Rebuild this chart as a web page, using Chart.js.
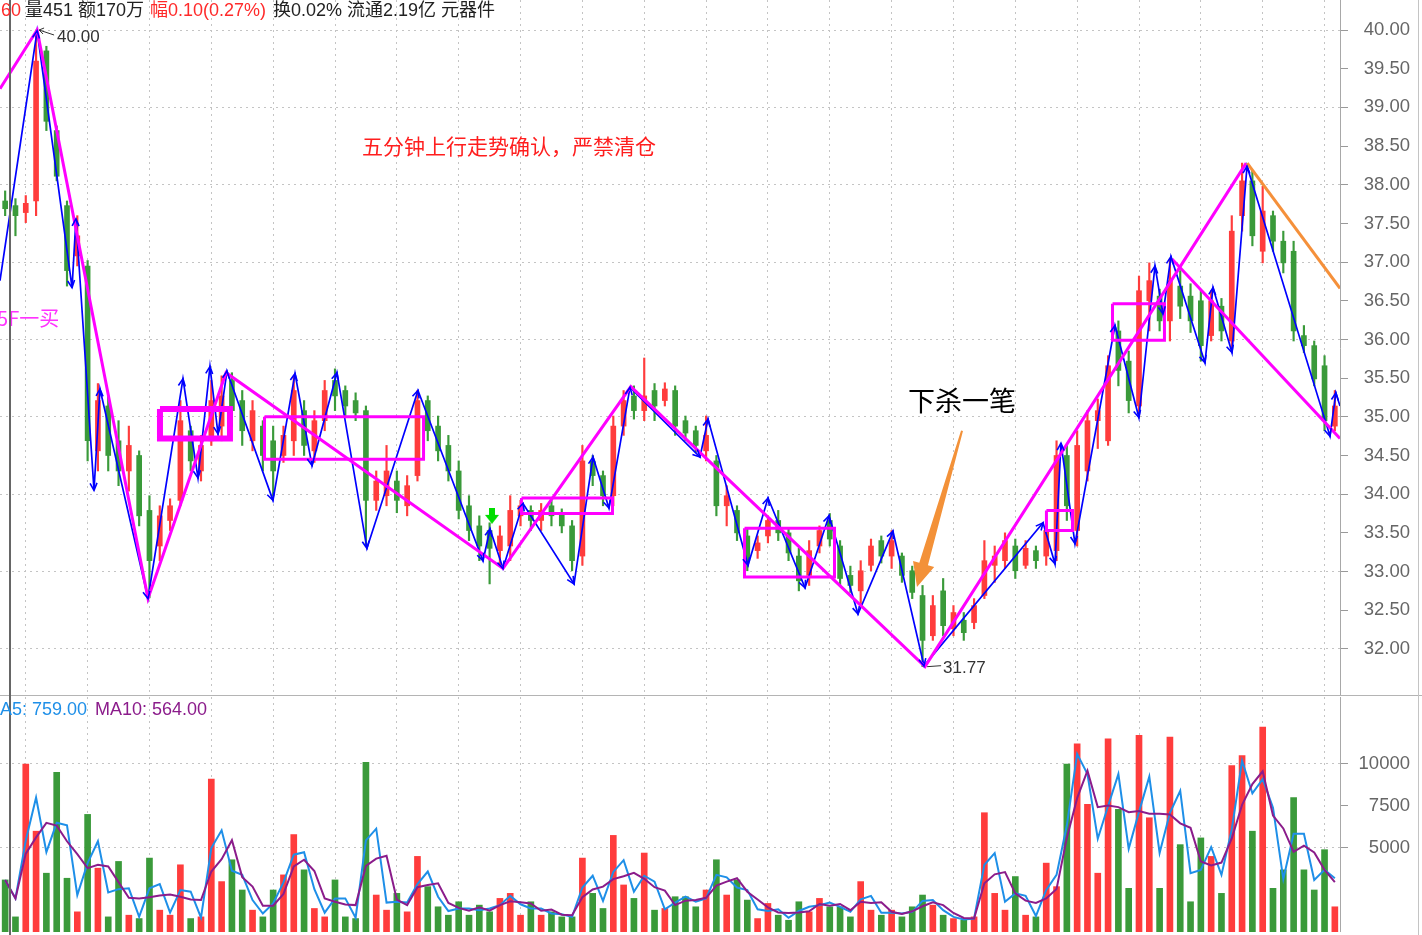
<!DOCTYPE html>
<html>
<head>
<meta charset="utf-8">
<script src="https://cdn.jsdelivr.net/npm/chart.js@4.4.1/dist/chart.umd.min.js"></script>
<style>
html,body{margin:0;padding:0;background:#fff;width:1422px;height:935px;overflow:hidden;}
#wrap{position:relative;width:1422px;height:935px;background:#fff;}
canvas{position:absolute;left:0;}
#cPrice{top:0;}
#cVol{top:697px;}
.t{position:absolute;white-space:nowrap;font-family:"Liberation Sans","Noto Sans CJK SC",sans-serif;font-size:18px;line-height:20px;}
.line{position:absolute;}
</style>
</head>
<body>
<div id="wrap">
<canvas id="cPrice" width="1410" height="696"></canvas>
<canvas id="cVol" width="1410" height="235"></canvas>
<div class="line" style="left:0;top:695px;width:1422px;height:1px;background:#b4b4b4"></div>
<div class="line" style="left:1418px;top:0;width:1px;height:935px;background:#c4c4c4"></div>
<div class="line" style="left:9px;top:0;width:2px;height:935px;background:#666"></div>
<div class="t" style="left:1px;top:0;color:#ff2a2a">60</div>
<div class="t" style="left:25px;top:0;color:#222">量451 额170万</div>
<div class="t" style="left:150px;top:0;color:#ff2a2a">幅0.10(0.27%)</div>
<div class="t" style="left:273px;top:0;color:#222">换0.02% 流通2.19亿 元器件</div>
<div class="t" style="left:-15px;top:699px;color:#1e8fe8">MA5: 759.00</div>
<div class="t" style="left:95px;top:699px;color:#8b1c8b">MA10: 564.00</div>
</div>
<script>
// ---------------- data ----------------
const priceTicks = [32, 32.5, 33, 33.5, 34, 34.5, 35, 35.5, 36, 36.5, 37, 37.5, 38, 38.5, 39, 39.5, 40];
const volumeTicks = [5000, 7500, 10000];
const gridSlots = [2, 8, 14, 20, 26, 32, 38, 44, 50, 56, 62, 68, 74, 80, 86, 92, 98, 104, 110, 116, 122, 128];

const openP = [37.79,37.73,37.64,37.79,39.73,38.70,37.73,37.08,36.95,34.56,
35.14,34.69,34.30,34.50,33.79,33.33,33.66,33.92,34.82,34.30,
34.69,34.88,35.47,35.21,34.69,34.88,34.69,34.50,34.69,35.08,
34.56,34.95,35.47,35.34,35.21,35.08,33.92,33.98,34.17,33.85,
34.24,35.21,34.88,34.63,34.30,33.85,33.59,33.53,33.27,33.33,
33.72,33.79,33.66,33.85,33.76,33.59,33.20,34.43,34.24,33.98,
34.88,35.27,35.08,35.34,35.21,35.34,34.95,34.82,34.56,34.43,
33.85,33.79,33.46,33.27,33.46,33.66,33.50,33.20,32.95,33.33,
33.66,33.33,32.95,32.75,33.08,33.40,33.20,33.20,33.01,32.69,
32.17,32.75,32.26,32.37,32.34,32.69,33.08,33.14,33.33,33.08,
33.27,33.20,33.27,34.50,33.53,34.30,34.95,34.69,36.11,35.72,
35.14,36.50,36.56,36.24,36.69,36.56,36.50,36.05,36.43,35.98,
37.60,38.05,37.14,37.60,37.27,37.14,36.05,35.92,35.66,34.88];

const closeP = [37.69,37.60,37.76,39.60,38.82,38.11,36.89,37.34,34.69,35.21,
34.50,34.30,34.63,33.72,33.14,33.72,33.85,34.95,34.43,34.63,
35.21,35.27,35.08,34.82,35.08,34.50,34.30,34.76,35.34,34.63,
34.95,35.34,35.27,35.14,35.05,33.92,34.17,34.30,33.92,34.11,
35.21,34.82,34.56,34.30,33.79,33.53,33.33,33.30,33.46,33.79,
33.85,33.66,33.79,33.72,33.59,33.14,34.43,34.24,33.98,34.88,
35.21,35.08,35.27,35.14,35.36,34.88,34.79,34.63,34.76,33.85,
33.98,33.50,33.14,33.37,33.66,33.50,33.24,32.88,33.27,33.53,
33.42,32.91,32.82,33.01,33.33,33.20,33.40,32.95,32.73,32.11,
32.56,32.30,32.47,32.21,32.56,33.14,33.20,33.40,33.01,33.30,
33.14,33.53,34.50,33.85,34.63,34.95,35.08,35.66,35.60,35.21,
36.63,36.76,36.24,36.76,36.43,36.24,35.92,36.50,36.11,37.40,
38.05,37.34,37.66,37.27,36.99,36.11,35.92,35.49,34.95,35.14];

const highP = [37.92,37.82,37.86,40.00,39.79,38.76,37.79,37.60,37.02,35.43,
35.27,34.95,34.88,34.56,33.98,33.85,33.94,35.21,34.88,34.76,
35.47,35.53,35.57,35.34,35.21,34.95,34.88,34.88,35.53,35.21,
35.08,35.47,35.62,35.40,35.31,35.14,34.30,34.63,34.30,34.24,
35.34,35.27,35.01,34.76,34.43,33.98,33.72,33.63,33.59,33.98,
33.92,33.85,33.88,33.92,33.81,33.66,34.63,34.50,34.30,35.01,
35.34,35.40,35.76,35.43,35.44,35.40,35.01,34.88,35.01,34.50,
34.11,33.85,33.55,33.46,33.72,33.79,33.55,33.30,33.40,33.59,
33.75,33.40,33.07,33.14,33.42,33.46,33.53,33.24,33.07,32.82,
32.69,32.91,32.56,32.47,32.65,33.40,33.33,33.50,33.42,33.40,
33.33,33.66,34.69,34.63,34.82,35.08,35.23,35.79,36.24,35.85,
36.82,36.99,36.65,37.04,36.89,36.72,36.63,36.63,36.53,37.60,
38.28,38.18,37.98,37.66,37.40,37.27,36.18,35.98,35.79,35.34];

const lowP = [37.60,37.34,37.51,37.60,38.70,38.05,36.69,36.95,34.43,34.30,
34.30,34.11,34.04,33.59,32.66,33.14,33.53,33.85,34.30,34.17,
34.63,34.69,34.88,34.63,34.56,34.30,33.98,34.41,34.50,34.50,
34.41,34.82,35.08,35.01,34.95,33.33,33.79,33.85,33.76,33.72,
34.17,34.69,34.43,34.17,33.68,33.40,33.14,32.84,33.08,33.14,
33.59,33.53,33.53,33.59,33.50,33.01,33.08,34.11,33.85,33.85,
34.76,34.97,34.95,34.95,35.14,34.76,34.69,34.54,34.43,33.72,
33.59,33.40,33.01,33.17,33.37,33.40,33.14,32.75,32.82,33.24,
33.33,32.82,32.73,32.56,33.01,33.11,33.04,32.86,32.65,31.77,
32.11,32.17,32.17,32.11,32.26,32.65,32.86,33.04,32.91,33.04,
33.04,33.08,33.14,33.66,33.33,34.17,34.59,34.63,35.40,35.05,
35.01,36.11,36.11,35.98,36.27,36.09,35.72,35.98,35.98,35.85,
37.40,37.21,36.99,37.14,36.86,35.98,35.83,35.40,34.82,34.82];

const volume = [3100,900,10000,6000,3500,9500,3200,1200,7000,3800,
900,4200,1000,800,4400,1300,1000,4000,800,900,
9100,3000,4300,2500,1300,900,2500,3400,5800,3700,
1400,900,3100,900,800,10100,2200,1300,2300,1200,
4500,2700,1500,1000,1800,1000,1600,1200,2000,2300,
1000,1800,1000,1200,900,900,4400,2300,1400,5750,
2800,2000,4700,1300,1400,2100,2100,1500,2500,4300,
2200,3100,1900,800,1700,1000,700,1800,1200,2000,
1500,1500,900,3000,1300,1000,1300,900,1500,2200,
1600,1000,800,700,900,7100,2300,1300,3300,1000,
900,4100,2700,10000,11200,7600,3500,11500,7300,2600,
11700,6800,2600,11600,5200,1800,5600,4500,2300,9900,
10500,6000,12200,2600,3700,8000,3700,2500,4900,1500];

// pink 笔 (stroke) vertices
const penX = [-0.5, 3.1, 13.86, 21.43, 48.3, 60.7, 89.24, 120.4];
const penY = [39.24, 40.00, 32.65, 35.57, 33.04, 35.39, 31.77, 38.28];
// pink descending trend line
const trendX = [113.2, 129.5];
const trendY = [37.04, 34.72];
// orange line
const orangeX = [120.5, 129.5];
const orangeY = [38.28, 36.66];
// blue sub-level zigzag
const blueX = [-0.5,3.1,6.49,6.87,8.62,9.2,13.86,17.25,18.71,19.87,20.65,21.52,25.98,28.12,29.77,32.19,35.1,40.05,46.36,47.04,48.3,50.24,55.19,57.03,58.58,60.62,67.41,68.19,72.07,74.01,77.6,79.93,82.74,86.13,89.14,100.69,101.85,102.43,103.79,107.67,109.99,111.55,112.33,113.1,116.4,117.18,119.02,120.48,128.53,129.1,129.5];
const blueY = [36.76,39.99,36.67,37.56,34.05,35.36,32.65,35.49,34.21,35.65,34.78,35.59,33.92,35.56,34.37,35.57,33.30,35.34,33.14,33.55,33.04,33.88,32.84,34.48,33.82,35.38,34.48,34.97,33.08,33.95,32.79,33.72,32.45,33.52,31.78,33.63,33.10,34.66,33.36,36.18,34.99,36.95,36.33,37.07,35.70,36.67,35.83,38.24,34.75,35.31,35.14];
// pink boxes (centres)
const boxLeft   = [15.02, 25.16, 50.09, 71.73, 101.02, 107.43];
const boxRight  = [21.81, 40.59, 58.92, 80.46, 103.55, 112.47];
const boxTop    = [35.10, 35.00, 33.95, 33.56, 33.79, 36.46];
const boxBottom = [34.72, 34.45, 33.75, 32.93, 33.53, 35.99];
// buy signal
const signalX = [47.23];
const signalY = [33.72];

// ---------------- styles / helpers ----------------
const UP = '#ff3c3c', DOWN = '#3a9a3a';
const boxWidths = [6, 3, 3, 3, 3, 3];
const slots = openP.map((_, i) => i);
const candleColor = slots.map(i => closeP[i] >= openP[i] ? UP : DOWN);
function movingAvg(arr, n) {
  return arr.map((v, i) => {
    const s = arr.slice(Math.max(0, i - n + 1), i + 1);
    return s.reduce((a, b) => a + b, 0) / s.length;
  });
}
const maShort = movingAvg(volume, 2);
const maLong = movingAvg(volume, 3);
const pts = (xs, ys) => xs.map((x, i) => ({x, y: ys[i]}));

const AXIS_FONT = {family: '"Liberation Sans", Arial, sans-serif', size: 18.5};

function xScaleCfg() {
  return {
    type: 'linear', min: -0.5, max: 129.5, offset: false,
    afterBuildTicks: s => { s.ticks = gridSlots.map(v => ({value: v})); },
    ticks: {display: false},
    grid: {color: '#c4c4c4', lineWidth: 1, drawTicks: false, offset: false},
    border: {display: false, dash: [2, 4]}
  };
}
function yFit(s) { s.width = 70; s.paddingTop = 0; s.paddingBottom = 0; }

// green arrow point image
const arrowImg = document.createElement('canvas');
arrowImg.width = 14; arrowImg.height = 16;
(function () {
  const c = arrowImg.getContext('2d');
  c.fillStyle = '#00dd00';
  c.fillRect(4, 0, 6, 8);
  c.beginPath(); c.moveTo(0, 7); c.lineTo(14, 7); c.lineTo(7, 16); c.closePath(); c.fill();
})();

const notes = [
  {text: '五分钟上行走势确认，严禁清仓', x: 34.62, y: 38.50, size: 21, color: '#ff1e1e', align: 'left'},
  {text: '下杀一笔', x: 92.83, y: 35.21, size: 27, color: '#000000', align: 'center'},
  {text: '5F一买', x: -0.78, y: 36.27, size: 20, color: '#ff33ff', align: 'left'}
];
const orangeArrow = {from: [92.83, 34.82], to: [88.46, 32.80]};

const annotPlugin = {
  id: 'annot',
  afterDatasetsDraw(chart) {
    const {ctx, scales: {x, y}} = chart;
    ctx.save();
    // arrow heads on blue zigzag
    const bi = chart.data.datasets.findIndex(d => d.label === 'blue');
    const bp = chart.getDatasetMeta(bi).data;
    ctx.strokeStyle = '#0000ff'; ctx.lineWidth = 1.6;
    for (let i = 1; i < bp.length - 1; i++) {
      const p = bp[i], q = bp[i - 1];
      const a = Math.atan2(p.y - q.y, p.x - q.x);
      ctx.beginPath();
      ctx.moveTo(p.x - 8 * Math.cos(a - 0.45), p.y - 8 * Math.sin(a - 0.45));
      ctx.lineTo(p.x, p.y);
      ctx.lineTo(p.x - 8 * Math.cos(a + 0.45), p.y - 8 * Math.sin(a + 0.45));
      ctx.stroke();
    }
    // extreme labels
    const hi = Math.max(...highP), lo = Math.min(...lowP);
    const hiI = highP.indexOf(hi), loI = lowP.indexOf(lo);
    ctx.strokeStyle = '#333'; ctx.fillStyle = '#333'; ctx.lineWidth = 1;
    ctx.font = '17px "Liberation Sans", Arial, sans-serif';
    ctx.textBaseline = 'middle'; ctx.textAlign = 'left';
    let px = x.getPixelForValue(hiI), py = y.getPixelForValue(hi);
    ctx.beginPath(); ctx.moveTo(px + 3, py); ctx.lineTo(px + 18, py + 5); ctx.stroke();
    ctx.beginPath(); ctx.moveTo(px + 3, py); ctx.lineTo(px + 8, py - 2); ctx.moveTo(px + 3, py); ctx.lineTo(px + 7, py + 4); ctx.stroke();
    ctx.fillText(hi.toFixed(2), px + 21, py + 7);
    px = x.getPixelForValue(loI + 0.25); py = y.getPixelForValue(lo);
    ctx.beginPath(); ctx.moveTo(px + 2, py); ctx.lineTo(px + 16, py - 1); ctx.stroke();
    ctx.fillText(lo.toFixed(2), px + 18, py + 2);
    // orange arrow
    const x0 = x.getPixelForValue(orangeArrow.from[0]), y0 = y.getPixelForValue(orangeArrow.from[1]);
    const x1 = x.getPixelForValue(orangeArrow.to[0]), y1 = y.getPixelForValue(orangeArrow.to[1]);
    const dx = x1 - x0, dy = y1 - y0, L = Math.hypot(dx, dy);
    const ux = dx / L, uy = dy / L, nx = -uy, ny = ux;
    const headLen = 24, headW = 11, shaftW = 4.5, tailW = 1;
    const bx = x1 - ux * headLen, by = y1 - uy * headLen;
    ctx.fillStyle = '#f39138';
    ctx.beginPath();
    ctx.moveTo(x0 + nx * tailW, y0 + ny * tailW);
    ctx.lineTo(bx + nx * shaftW, by + ny * shaftW);
    ctx.lineTo(bx + nx * headW, by + ny * headW);
    ctx.lineTo(x1, y1);
    ctx.lineTo(bx - nx * headW, by - ny * headW);
    ctx.lineTo(bx - nx * shaftW, by - ny * shaftW);
    ctx.lineTo(x0 - nx * tailW, y0 - ny * tailW);
    ctx.closePath(); ctx.fill();
    // notes
    notes.forEach(n => {
      ctx.font = n.size + 'px "Noto Sans CJK SC", sans-serif';
      ctx.fillStyle = n.color; ctx.textAlign = n.align; ctx.textBaseline = 'middle';
      ctx.fillText(n.text, x.getPixelForValue(n.x), y.getPixelForValue(n.y));
    });
    ctx.restore();
  }
};

// ---------------- price chart ----------------
const lineDs = (label, data, color, width, order) => ({
  type: 'line', label, data, borderColor: color, borderWidth: width, pointRadius: 0,
  tension: 0, fill: false, order, borderJoinStyle: 'miter', borderCapStyle: 'butt'
});

const priceDatasets = [
  {type: 'bar', label: 'wick', data: slots.map(i => ({x: i, y: [lowP[i], highP[i]]})),
   backgroundColor: candleColor, barThickness: 1.5, grouped: false, order: 20},
  {type: 'bar', label: 'body', data: slots.map(i => ({x: i, y: [openP[i], closeP[i]]})),
   backgroundColor: candleColor, barThickness: 5, grouped: false, minBarLength: 1, order: 19},
  lineDs('blue', pts(blueX, blueY), '#0000ff', 1.7, 6),
  lineDs('pen', pts(penX, penY), '#ff00ff', 3, 4),
  lineDs('trend', pts(trendX, trendY), '#ff00ff', 3, 4),
  lineDs('orange', pts(orangeX, orangeY), '#f5903a', 3, 3)
];
boxLeft.forEach((l, k) => {
  const r = boxRight[k], t = boxTop[k], b = boxBottom[k];
  priceDatasets.push(lineDs('box' + k, [{x: l, y: t}, {x: r, y: t}, {x: r, y: b}, {x: l, y: b}, {x: l, y: t}],
    '#ff00ff', boxWidths[k], 3));
});
priceDatasets.push({type: 'line', label: 'signal', data: pts(signalX, signalY), showLine: false,
  pointStyle: arrowImg, pointRadius: 8, order: 1});

const commonOpts = {
  responsive: false, maintainAspectRatio: false, animation: false, devicePixelRatio: 1, events: [],
  layout: {padding: 0, autoPadding: false},
  plugins: {legend: {display: false}, tooltip: {enabled: false}}
};

new Chart(document.getElementById('cPrice'), {
  type: 'bar',
  data: {datasets: priceDatasets},
  options: Object.assign({}, commonOpts, {
    scales: {
      x: xScaleCfg(),
      y: {
        type: 'linear', position: 'right', min: 31.391, max: 40.388,
        afterBuildTicks: s => { s.ticks = priceTicks.map(v => ({value: v})); },
        afterFit: yFit,
        ticks: {color: '#666', font: AXIS_FONT, padding: 8, crossAlign: 'far', callback: v => Number(v).toFixed(2)},
        grid: {color: c => (c.tick && Number.isInteger(c.tick.value)) ? '#c4c4c4' : 'rgba(0,0,0,0)',
               tickColor: '#999', tickLength: 8, lineWidth: 1},
        border: {display: true, color: '#a8a8a8', width: 1, dash: [2, 4]}
      }
    }
  }),
  plugins: [annotPlugin]
});

// ---------------- volume chart ----------------
new Chart(document.getElementById('cVol'), {
  type: 'bar',
  data: {
    datasets: [
      {type: 'bar', label: 'vol', data: slots.map(i => ({x: i, y: volume[i]})),
       backgroundColor: candleColor, barThickness: 6, grouped: false, order: 5},
      lineDs('ma5', slots.map(i => ({x: i, y: maShort[i]})), '#1e8fe8', 2, 2),
      lineDs('ma10', slots.map(i => ({x: i, y: maLong[i]})), '#8b1c8b', 2, 1)
    ]
  },
  options: Object.assign({}, commonOpts, {
    scales: {
      x: xScaleCfg(),
      y: {
        type: 'linear', position: 'right', min: 0, max: 13988,
        afterBuildTicks: s => { s.ticks = volumeTicks.map(v => ({value: v})); },
        afterFit: yFit,
        ticks: {color: '#666', font: AXIS_FONT, padding: 8, crossAlign: 'far', callback: v => String(v)},
        grid: {color: c => (c.tick && c.tick.value % 5000 === 0) ? '#c4c4c4' : 'rgba(0,0,0,0)',
               tickColor: '#999', tickLength: 8, lineWidth: 1},
        border: {display: true, color: '#a8a8a8', width: 1, dash: [2, 4]}
      }
    }
  })
});
</script>
</body>
</html>
